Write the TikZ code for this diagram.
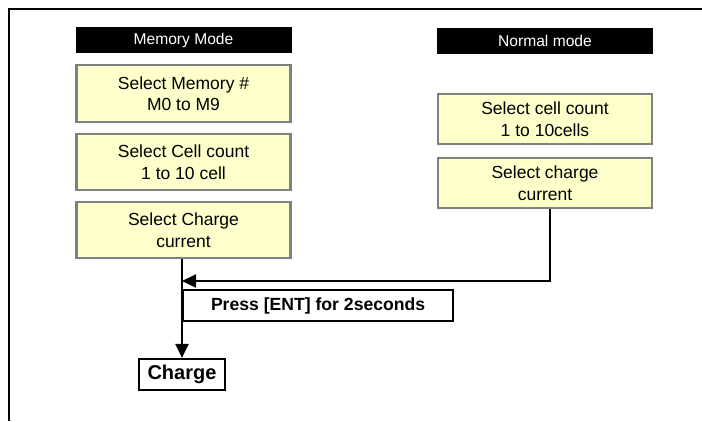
\documentclass[tikz,border=0pt]{standalone}
\usepackage{fontspec}
\setmainfont{Liberation Sans}
\usetikzlibrary{arrows.meta, positioning}

\definecolor{boxfill}{HTML}{FFFFCC}
\definecolor{boxline}{HTML}{808080}

\begin{document}
\begin{tikzpicture}[x=1pt, y=-1pt,
    modehead/.style={fill=black, text=white, minimum width=216pt, minimum height=26pt, inner sep=0pt, font=\fontsize{15.6}{18}\selectfont},
    stepbox/.style={draw=boxline, fill=boxfill, line width=2.2pt, minimum width=214pt, inner sep=0pt, align=center, font=\fontsize{17.5}{21.5}\selectfont},
    keybox/.style={draw, line width=2.2pt, inner sep=0pt, font=\bfseries\fontsize{17.6}{20}\selectfont},
    flow/.style={line width=2.2pt, -{Triangle[length=14pt, width=13pt]}}]
                \useasboundingbox (0,0) rectangle (702,421);

                % Frame
                \draw[line width=2.4pt] (9,421) -- (9,9) -- (702,9);

                % Memory mode
                \node[modehead] (memhead) at (183.5,40) {Memory Mode};
                \node[stepbox, minimum height=57pt] (mem1) at (183.5,93.5) {Select Memory \#\\M0 to M9};
                \node[stepbox, minimum height=56pt] (mem2) at (183.5,162) {Select Cell count\\1 to 10 cell};
                \node[stepbox, minimum height=56pt] (mem3) at (183.5,230) {Select Charge\\current};

                % Normal mode
                \node[modehead] (normhead) at (545,40.5) {Normal mode};
                \node[stepbox, minimum height=50pt] (norm1) at (545,119) {Select cell count\\1 to 10cells};
                \node[stepbox, minimum height=50pt] (norm2) at (545,183) {Select charge\\current};

                % Key press and result
                \node[keybox, minimum width=270pt, minimum height=31pt, anchor=north west] (press) at (182,289) {Press [ENT] for 2seconds};
                \node[keybox, minimum width=86pt, minimum height=31pt, font=\bfseries\fontsize{20}{22}\selectfont] (charge) at (182,374.5) {Charge};

                % Flow
                \coordinate (join) at (182,281);
                \draw[flow] ([xshift=5pt]norm2.south) |- (join);
                \draw[flow] (join |- mem3.south) -- (charge.north);
            \end{tikzpicture}
\end{document}
